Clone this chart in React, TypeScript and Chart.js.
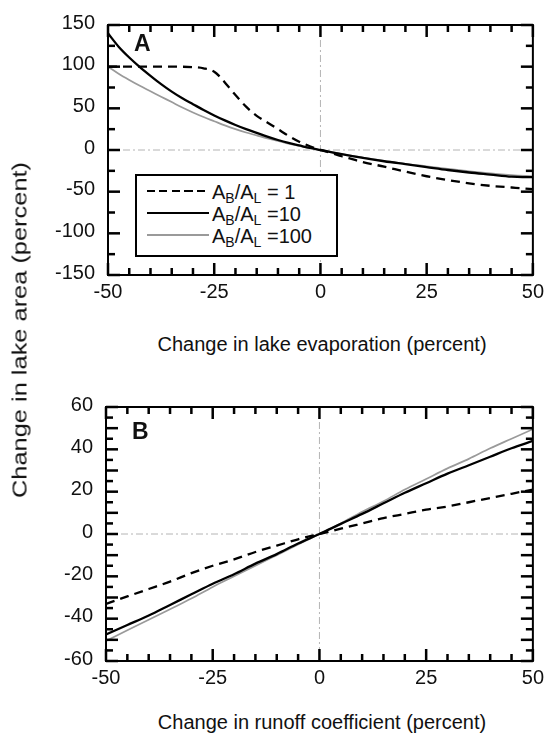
import React, { useEffect, useRef } from "react";
import { Chart, registerables } from "chart.js";

Chart.register(...registerables);

const FONT = '"Liberation Sans", Arial, Helvetica, sans-serif';

// ---------- Panel A: change in lake evaporation ----------
const aDashX = [-50, -45, -40, -35, -30, -27.5, -25, -23.5, -22, -20, -17.5, -15, -12.5, -10, -7.5, -5, -2.5, 0, 2.5, 5, 7.5, 10, 15, 20, 25, 30, 35, 40, 45, 50];
const aDashY = [100, 100, 100, 100, 99.5, 98, 94, 87, 78, 66, 52, 41, 33, 25, 17, 10, 4.5, 0, -3.5, -7.5, -11, -14.5, -20, -26, -31.5, -36, -40, -43, -45, -47];

const aSolidX = [-50, -47.5, -45, -42.5, -40, -37.5, -35, -32.5, -30, -27.5, -25, -22.5, -20, -17.5, -15, -12.5, -10, -7.5, -5, -2.5, 0, 5, 10, 15, 20, 25, 30, 35, 40, 45, 47.5, 50];
const aSolidY = [140, 124, 111, 99.5, 89, 79, 70, 62, 55, 48, 41.5, 35.5, 30, 25, 20.5, 16, 12, 8.5, 5.5, 2.5, 0, -5, -9.5, -13.5, -17, -20.5, -24, -27, -29.5, -32, -32.5, -32.5];

const aGrayX = [-50, -47.5, -45, -42.5, -40, -37.5, -35, -32.5, -30, -27.5, -25, -22.5, -20, -17.5, -15, -12.5, -10, -7.5, -5, -2.5, 0, 5, 10, 15, 20, 25, 30, 35, 40, 45, 50];
const aGrayY = [100, 91.5, 84, 77, 70.5, 64, 57.5, 51, 45, 39.5, 34.5, 29.5, 25, 21, 17.5, 14, 11, 7.5, 4.8, 2.3, 0, -4.8, -9, -13, -16.5, -19.5, -22.5, -25.5, -28, -30, -31.5];

// ---------- Panel B: change in runoff coefficient ----------
const bX = [-50, -45, -40, -35, -30, -25, -20, -15, -10, -5, 0, 5, 10, 15, 20, 25, 30, 35, 40, 45, 50];
const bDashY = [-33, -29.5, -26, -22.5, -18.5, -15, -12, -8.5, -5.5, -2.5, 0, 2.5, 5, 7.5, 9.5, 11.5, 13, 15, 17, 19, 21];
const bSolidY = [-47.5, -43, -38.5, -33.5, -28.5, -23.5, -19, -14, -9.5, -4.5, 0, 4.8, 9.5, 14.5, 19.5, 24, 28.5, 32.5, 36.5, 40.5, 44];
const bGrayY = [-50.5, -45.5, -40.5, -35.5, -30.5, -25, -20, -15, -10, -5, 0, 5, 10.5, 15.5, 21, 26, 31, 35.5, 40.5, 45, 49.5];

const seriesNames = ["AB/AL = 1", "AB/AL = 10", "AB/AL = 100"];
const xTitleA = "Change in lake evaporation (percent)";
const xTitleB = "Change in runoff coefficient (percent)";
const yTitle = "Change in lake area (percent)";

// tick values for the inward tick marks
const xTickValues = [-50, -45, -40, -35, -30, -25, -20, -15, -10, -5, 0, 5, 10, 15, 20, 25, 30, 35, 40, 45, 50];
const aYTickValues = [-150, -125, -100, -75, -50, -25, 0, 25, 50, 75, 100, 125, 150];
const bYTickValues = [-60, -55, -50, -45, -40, -35, -30, -25, -20, -15, -10, -5, 0, 5, 10, 15, 20, 25, 30, 35, 40, 45, 50, 55, 60];

const toPts = (xs: number[], ys: number[]) => xs.map((x, i) => ({ x, y: ys[i] }));

const isMult = (v: number, m: number) => Math.abs(v / m - Math.round(v / m)) < 1e-6;

type PanelCfg = {
  canvasTop: number;
  canvasH: number;
  areaLeft: number;
  areaRight: number;
  areaTop: number;
  areaBottom: number;
  xMin: number;
  xMax: number;
  xStep: number;
  xTicks: number[];
  yMin: number;
  yMax: number;
  yStep: number;
  yTicks: number[];
  yMajor: number;
  dash: { x: number; y: number }[];
  solid: { x: number; y: number }[];
  gray: { x: number; y: number }[];
};

function drawTicks(chart: any, cfg: PanelCfg) {
  const ctx = chart.ctx;
  const a = chart.chartArea;
  const sx = chart.scales.x;
  const sy = chart.scales.y;
  const w = 2.5;
  ctx.save();
  ctx.fillStyle = "#000";
  for (let i = 0; i < cfg.xTicks.length; i++) {
    const v = cfg.xTicks[i];
    const p = sx.getPixelForValue(v);
    const len = isMult(v, cfg.xStep) ? 12 : 7;
    ctx.fillRect(p - w / 2, a.bottom - len, w, len);
    ctx.fillRect(p - w / 2, a.top, w, len);
  }
  for (let i = 0; i < cfg.yTicks.length; i++) {
    const v = cfg.yTicks[i];
    const p = sy.getPixelForValue(v);
    const len = isMult(v, cfg.yMajor) ? 12 : 7;
    ctx.fillRect(a.left, p - w / 2, len, w);
    ctx.fillRect(a.right - len, p - w / 2, len, w);
  }
  ctx.restore();
}

function makeFramePlugin(cfg: PanelCfg) {
  return {
    id: "frameTicks",
    beforeDatasetsDraw(chart: any) {
      const ctx = chart.ctx;
      const a = chart.chartArea;
      const x0 = chart.scales.x.getPixelForValue(0);
      const y0 = chart.scales.y.getPixelForValue(0);
      ctx.save();
      ctx.strokeStyle = "#b4b4b4";
      ctx.lineWidth = 1;
      ctx.setLineDash([7, 3, 2, 3]);
      ctx.beginPath();
      ctx.moveTo(x0, a.top);
      ctx.lineTo(x0, a.bottom);
      ctx.moveTo(a.left, y0);
      ctx.lineTo(a.right, y0);
      ctx.stroke();
      ctx.restore();
    },
    afterDraw(chart: any) {
      drawTicks(chart, cfg);
      const ctx = chart.ctx;
      const a = chart.chartArea;
      ctx.save();
      ctx.strokeStyle = "#000";
      ctx.lineWidth = 2;
      ctx.setLineDash([]);
      ctx.strokeRect(a.left, a.top, a.right - a.left, a.bottom - a.top);
      ctx.restore();
    },
  };
}

function Panel({ cfg }: { cfg: PanelCfg }) {
  const ref = useRef<HTMLCanvasElement>(null);
  useEffect(() => {
    const tickFont = { family: FONT, size: 20 };
    const chart = new Chart(ref.current as HTMLCanvasElement, {
      type: "line",
      data: {
        datasets: [
          { label: seriesNames[0], data: cfg.dash, borderColor: "#000", borderWidth: 2.3, borderDash: [9, 6], pointRadius: 0, fill: false, cubicInterpolationMode: "monotone" },
          { label: seriesNames[1], data: cfg.solid, borderColor: "#000", borderWidth: 2.3, pointRadius: 0, fill: false, cubicInterpolationMode: "monotone" },
          { label: seriesNames[2], data: cfg.gray, borderColor: "#9a9a9a", borderWidth: 1.7, pointRadius: 0, fill: false, cubicInterpolationMode: "monotone" },
        ],
      } as any,
      options: {
        animation: false,
        responsive: false,
        maintainAspectRatio: false,
        layout: { padding: { left: 0, right: 549 - cfg.areaRight, top: cfg.areaTop, bottom: 0 } },
        plugins: {
          legend: { display: false },
          tooltip: { enabled: false },
        },
        scales: {
          x: {
            type: "linear",
            min: cfg.xMin,
            max: cfg.xMax,
            grid: { display: false, drawTicks: false },
            border: { display: false },
            ticks: { stepSize: cfg.xStep, padding: 5, color: "#111", font: tickFont, maxRotation: 0, autoSkip: false, callback: (v: any) => String(v) },
            afterFit: (s: any) => { s.height = cfg.canvasH - cfg.areaBottom; },
          },
          y: {
            type: "linear",
            min: cfg.yMin,
            max: cfg.yMax,
            grid: { display: false, drawTicks: false },
            border: { display: false },
            ticks: { stepSize: cfg.yStep, padding: 13, color: "#111", font: tickFont, labelOffset: -2, autoSkip: false, callback: (v: any) => String(v) },
            afterFit: (s: any) => { s.width = cfg.areaLeft; },
          },
        } as any,
      },
      plugins: [makeFramePlugin(cfg) as any],
    });
    return () => chart.destroy();
  }, []);
  return (
    <canvas
      ref={ref}
      width={549}
      height={cfg.canvasH}
      style={{ position: "absolute", left: 0, top: cfg.canvasTop, width: 549, height: cfg.canvasH }}
    />
  );
}

const panelA: PanelCfg = {
  canvasTop: 0, canvasH: 320,
  areaLeft: 108, areaRight: 537, areaTop: 21, areaBottom: 275,
  xMin: -50, xMax: 50, xStep: 25, xTicks: xTickValues,
  yMin: -150, yMax: 150, yStep: 50, yTicks: aYTickValues, yMajor: 50,
  dash: toPts(aDashX, aDashY), solid: toPts(aSolidX, aSolidY), gray: toPts(aGrayX, aGrayY),
};

const panelB: PanelCfg = {
  canvasTop: 380, canvasH: 320,
  areaLeft: 106, areaRight: 536, areaTop: 27, areaBottom: 281,
  xMin: -50, xMax: 50, xStep: 25, xTicks: xTickValues,
  yMin: -60, yMax: 60, yStep: 20, yTicks: bYTickValues, yMajor: 10,
  dash: toPts(bX, bDashY), solid: toPts(bX, bSolidY), gray: toPts(bX, bGrayY),
};

const subStyle: React.CSSProperties = { fontSize: "0.7em", verticalAlign: "-0.32em", lineHeight: 0 };

function LegendRow({ top, sample, suffix }: { top: number; sample: React.CSSProperties; suffix: string }) {
  return (
    <>
      <div style={{ position: "absolute", left: 147, top: top + 8, width: 62, height: 2, ...sample }} />
      <div style={{ position: "absolute", left: 212, top, fontSize: 20, lineHeight: 1, whiteSpace: "nowrap", color: "#111" }}>
        A<sub style={subStyle}>B</sub>/A<sub style={subStyle}>L</sub>{suffix}
      </div>
    </>
  );
}

export default function App() {
  return (
    <div style={{ position: "fixed", left: 0, top: 0, width: 549, height: 737, background: "#fff", overflow: "hidden", fontFamily: FONT, color: "#111" }}>
      <Panel cfg={panelA} />
      <Panel cfg={panelB} />
      <div style={{ position: "absolute", left: 134, top: 32, fontSize: 23, fontWeight: "bold", lineHeight: 1 }}>A</div>
      <div style={{ position: "absolute", left: 132, top: 420, fontSize: 23, fontWeight: "bold", lineHeight: 1 }}>B</div>
      <div style={{ position: "absolute", left: 135, top: 174, width: 203, height: 83, border: "2px solid #000", boxSizing: "border-box", background: "#fff" }} />
      <LegendRow top={182} suffix=" = 1" sample={{ background: "repeating-linear-gradient(to right, #000 0 8px, transparent 8px 12.5px)" }} />
      <LegendRow top={203.5} suffix=" =10" sample={{ background: "#000" }} />
      <LegendRow top={225.5} suffix=" =100" sample={{ background: "#9a9a9a" }} />
      <div style={{ position: "absolute", left: 322, top: 344, transform: "translate(-50%, -50%)", fontSize: 20, whiteSpace: "nowrap" }}>{xTitleA}</div>
      <div style={{ position: "absolute", left: 322, top: 722, transform: "translate(-50%, -50%)", fontSize: 20, whiteSpace: "nowrap" }}>{xTitleB}</div>
      <div style={{ position: "absolute", left: 20, top: 330, transform: "translate(-50%, -50%) rotate(-90deg) scaleX(1.27)", fontSize: 20, whiteSpace: "nowrap" }}>{yTitle}</div>
    </div>
  );
}
